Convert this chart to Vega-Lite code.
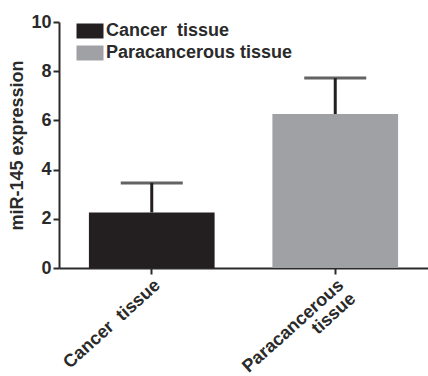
{
  "$schema": "https://vega.github.io/schema/vega-lite/v6.json",
  "autosize": {"type": "none"},
  "width": 369,
  "height": 246,
  "padding": {"left": 59, "top": 22, "right": 0, "bottom": 108},
  "data": {
    "values": [
      {"group": "Cancer\u00a0 tissue", "value": 2.26, "upper": 3.46},
      {"group": "Paracancerous tissue", "value": 6.26, "upper": 7.72}
    ]
  },
  "encoding": {
    "x": {
      "field": "group",
      "type": "nominal",
      "sort": null,
      "scale": {"paddingInner": 0.315, "paddingOuter": 0.163},
      "axis": {
        "title": null,
        "labelAngle": -42,
        "labelAlign": "right",
        "labelBaseline": "top",
        "labelFont": "Liberation Sans",
        "labelFontWeight": "bold",
        "labelFontSize": 18,
        "labelColor": "#2a2a2a",
        "labelPadding": 2,
        "labelLineHeight": 18,
        "labelLimit": 0,
        "labelExpr": "datum.value == 'Paracancerous tissue' ? ['Paracancerous', 'tissue'] : datum.value",
        "domainColor": "#2a2a2a",
        "domainWidth": 2,
        "tickColor": "#2a2a2a",
        "tickWidth": 2,
        "tickSize": 6
      }
    }
  },
  "layer": [
    {
      "mark": {"type": "bar"},
      "encoding": {
        "y": {
          "field": "value",
          "type": "quantitative",
          "scale": {"domain": [0, 10]},
          "axis": {
            "title": "miR-145 expression",
            "values": [0, 2, 4, 6, 8, 10],
            "grid": false,
            "titleFont": "Liberation Sans",
            "titleFontWeight": "bold",
            "titleFontSize": 18,
            "titleColor": "#2a2a2a",
            "titlePadding": 4,
            "labelFont": "Liberation Sans",
            "labelFontWeight": "bold",
            "labelFontSize": 18,
            "labelColor": "#2a2a2a",
            "labelPadding": 2,
            "domainColor": "#2a2a2a",
            "domainWidth": 2,
            "tickColor": "#2a2a2a",
            "tickWidth": 2,
            "tickSize": 6
          }
        },
        "color": {
          "field": "group",
          "type": "nominal",
          "sort": null,
          "scale": {"range": ["#231f20", "#a0a1a5"]},
          "legend": {
            "title": null,
            "orient": "none",
            "legendX": 22,
            "legendY": 0,
            "symbolType": "M-1.8,-1 L1.8,-1 L1.8,1 L-1.8,1 Z",
            "symbolSize": 225,
            "symbolOpacity": 1,
            "symbolStrokeWidth": 0,
            "labelFont": "Liberation Sans",
            "labelFontWeight": "bold",
            "labelFontSize": 18,
            "labelColor": "#2a2a2a",
            "labelOffset": 7,
            "labelLimit": 0,
            "rowPadding": 4
          }
        }
      }
    },
    {
      "mark": {"type": "rule", "color": "#231f20", "strokeWidth": 3},
      "encoding": {
        "y": {"field": "value", "type": "quantitative"},
        "y2": {"field": "upper"}
      }
    },
    {
      "mark": {"type": "tick", "color": "#231f20", "thickness": 3, "size": 62, "orient": "horizontal"},
      "encoding": {
        "y": {"field": "upper", "type": "quantitative"}
      }
    }
  ],
  "config": {
    "view": {"stroke": null}
  }
}
